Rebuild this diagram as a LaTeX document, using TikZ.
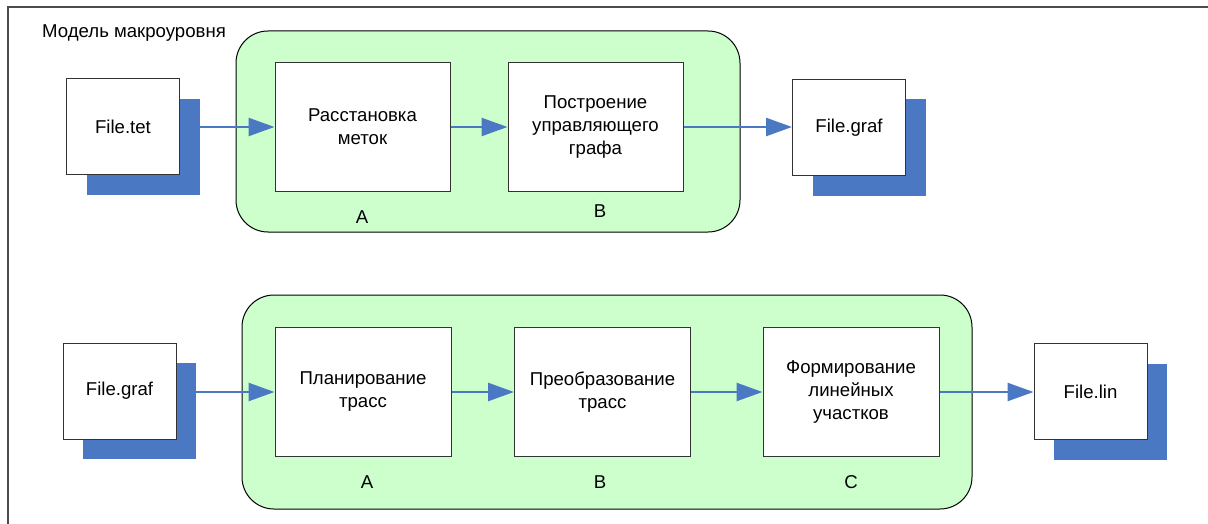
\documentclass[tikz,border=0pt]{standalone}
\usepackage{fontspec}
\setmainfont{Liberation Sans}
\usetikzlibrary{arrows.meta,shadows}
\definecolor{stagegreen}{HTML}{CCFFCC}
\definecolor{shadowblue}{HTML}{4A78C2}
\definecolor{flowblue}{HTML}{4A78C2}
\tikzset{
  txt/.style={font=\fontsize{18.6}{23}\selectfont},
  stage/.style={draw=black, line width=1pt, fill=stagegreen, rounded corners=32pt, inner sep=0pt},
  proc/.style={draw=black!80, line width=1pt, fill=white, align=center,
    minimum width=176pt, minimum height=129pt, inner sep=0pt, txt},
  file/.style={draw=black!80, line width=1pt, fill=white, minimum width=113pt,
    minimum height=96pt, inner sep=0pt, txt,
    general shadow={fill=shadowblue, draw=none, shadow xshift=20pt, shadow yshift=-20pt}},
  flow/.style={draw=flowblue, line width=2.6pt, -{Triangle[length=26pt,width=18pt]}},
  tag/.style={txt, inner sep=0pt, anchor=base},
  frame/.style={draw=black!70, line width=1.6pt},
}
\begin{document}
\begin{tikzpicture}[x=1pt,y=-1pt]
\useasboundingbox (0,0) rectangle (1208,524);

% outer frame (top and left edges)
\coordinate (ftl) at (8,7);
\coordinate (ftr) at (1210,7);
\coordinate (fbl) at (8,526);
\draw[frame] (ftr) -- (ftl) -- (fbl);

\node[txt, inner sep=0pt, anchor=base west] (title) at (42,38) {Модель макроуровня};

% upper stage: labelling and control graph
\node[stage, minimum width=504pt, minimum height=201pt] (upper) at (488,131.5) {};
\node[file] (tet) at (123,127) {File.tet};
\node[proc, minimum width=175pt] (marks) at (362.5,127) {Расстановка\\меток};
\node[proc, minimum width=175pt] (graph) at (595.5,127) {Построение\\управляющего\\графа};
\node[file] (grafout) at (849,127.5) {File.graf};
\node[tag] (ua) at (362,223) {A};
\node[tag] (ub) at (600,218) {B};

\draw[flow] (tet.east) -- (marks.west);
\draw[flow] (marks.east) -- (graph.west);
\draw[flow] (graph.east) -- (grafout.west |- graph.east);

% lower stage: routing and linear segments
\node[stage, minimum width=730pt, minimum height=214pt] (lower) at (607,402) {};
\node[file] (grafin) at (119.5,391) {File.graf};
\node[proc] (plan) at (363,392) {Планирование\\трасс};
\node[proc] (conv) at (602.5,392) {Преобразование\\трасс};
\node[proc] (form) at (851,392) {Формирование\\линейных\\участков};
\node[file] (lin) at (1090.5,391.5) {File.lin};
\node[tag] (la) at (367,488) {A};
\node[tag] (lb) at (600,488) {B};
\node[tag] (lc) at (851,488) {C};

\draw[flow] (grafin.east |- plan.west) -- (plan.west);
\draw[flow] (plan.east) -- (conv.west);
\draw[flow] (conv.east) -- (form.west);
\draw[flow] (form.east) -- (lin.west |- form.east);
\end{tikzpicture}
\end{document}
